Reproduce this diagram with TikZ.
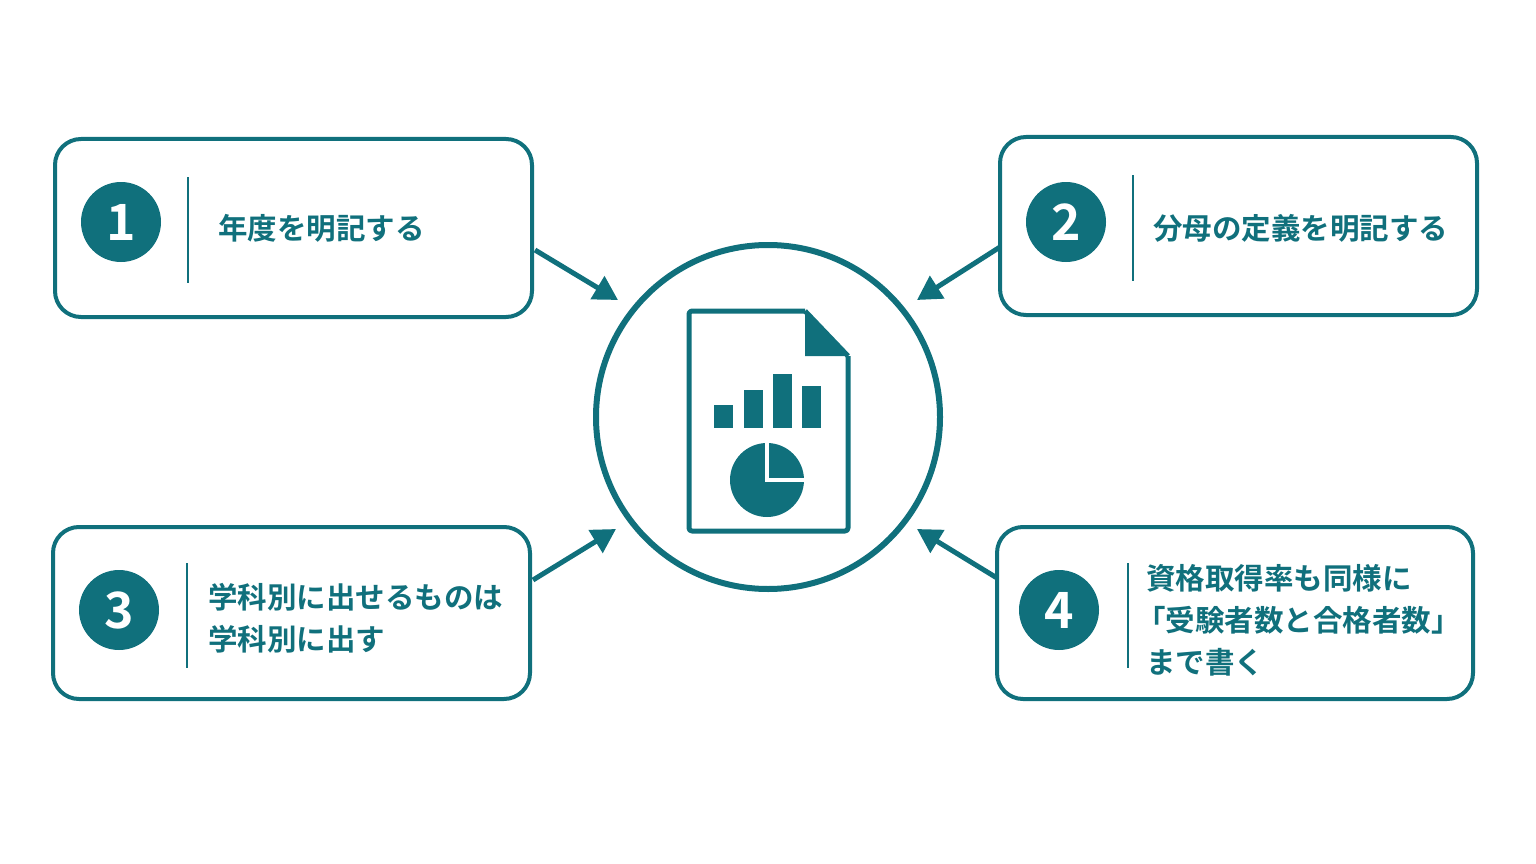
\documentclass[tikz,border=0pt]{standalone}
\usetikzlibrary{arrows.meta}
\usepackage{fontspec}
\newfontfamily\jp{Noto Sans CJK JP}[BoldFont={Noto Sans CJK JP Bold}]
\definecolor{teal}{HTML}{10707C}
\begin{document}
\begin{tikzpicture}[x=1pt,y=-1pt,
 box/.style={draw=teal,line width=4pt,rounded corners=26pt},
 num/.style={circle,fill=teal,minimum size=80pt,inner sep=0pt,text=white,font=\jp\bfseries\fontsize{50}{50}\selectfont},
 div/.style={draw=teal,line width=2pt},
 lbl/.style={anchor=west,text=teal,font=\jp\bfseries\fontsize{29.5}{42}\selectfont,align=left,inner sep=0pt},
 arr/.style={draw=teal,line width=5pt,-{Triangle[length=24pt,width=26pt]}}]
\useasboundingbox (0,0) rectangle (1536,864);
\draw[box] (55,139) rectangle (532,317);
\draw[box] (1000,137) rectangle (1477,315);
\draw[box] (53,527) rectangle (530,699);
\draw[box] (997,527) rectangle (1473,699);
\node[num] (n1) at (121,222) {1};
\node[num] (n2) at (1066,222) {2};
\node[num] (n3) at (119,610) {3};
\node[num] (n4) at (1059,610) {4};
\draw[div] (188,177) -- (188,283);
\draw[div] (1133,175) -- (1133,281);
\draw[div] (187,563) -- (187,668);
\draw[div] (1128,563) -- (1128,668);
\node[lbl] (t1) at (218,228) {年度を明記する};
\node[lbl] (t2) at (1153,228) {分母の定義を明記する};
\node[lbl] (t3) at (208,618) {学科別に出せるものは\\学科別に出す};
\node[lbl] (t4) at (1146,620) {資格取得率も同様に\\\hspace{-10pt}「受験者数と合格者数」\\まで書く};
\node[circle,draw=teal,line width=6pt,minimum size=344pt] (c) at (768,417) {};
\coordinate (a1) at (535,250); \coordinate (b1) at (618,300);
\coordinate (a2) at (1000,247); \coordinate (b2) at (917,300);
\coordinate (a3) at (533,580); \coordinate (b3) at (616,529);
\coordinate (a4) at (997,578); \coordinate (b4) at (917,529);
\draw[arr] (a1) -- (b1);
\draw[arr] (a2) -- (b2);
\draw[arr] (a3) -- (b3);
\draw[arr] (a4) -- (b4);
% document icon
\draw[teal,line width=5pt,line join=round,rounded corners=3pt] (805,311) -- (689,311) -- (689,531) -- (848,531) -- (848,356);
\draw[teal,line width=5pt,line join=round] (805,311) -- (848,356);
\fill[teal] (805,311) -- (805,356) -- (848,356) -- cycle;
\fill[teal] (714,405) rectangle (733,428);
\fill[teal] (744,390) rectangle (763,428);
\fill[teal] (773,374) rectangle (792,428);
\fill[teal] (802,386) rectangle (821,428);
\fill[teal] (767,480) circle (37);
\draw[white,line width=4pt] (767,440) -- (767,480) -- (806,480);
\end{tikzpicture}
\end{document}
